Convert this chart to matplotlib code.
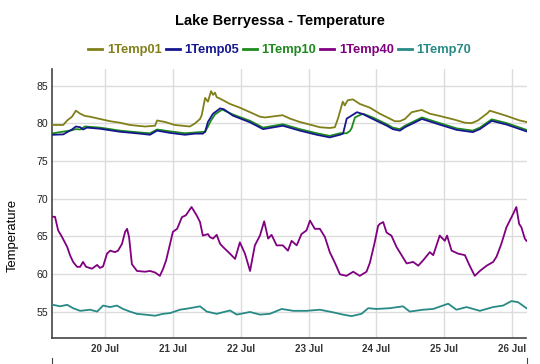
import numpy as np
import pandas as pd
import matplotlib
matplotlib.use("Agg")
import matplotlib.pyplot as plt
import matplotlib.dates as mdates

# hours after 19 Jul 00:00
t01 = [5.6, 9.2, 10.6, 12.3, 13.7, 15.2, 16.9, 18.7, 22.2, 25.8, 29.3, 32.8, 38.1, 41.7, 42.4,
       45.2, 48.7, 54.0, 55.8, 57.6, 58.2, 59.4, 60.4, 61.5, 62.2, 62.9, 63.5, 64.7, 68.2, 71.7,
       75.3, 78.8, 80.6, 86.8, 89.4, 92.9, 96.5, 100.0, 103.5, 105.3, 106.4, 108.1, 108.8, 109.9,
       111.7, 114.1, 117.7, 121.2, 124.7, 126.5, 128.3, 130.1, 132.5, 136.0, 138.9, 142.4, 147.7,
       151.3, 153.7, 155.9, 159.4, 160.1, 163.6, 166.1, 170.7, 173.1]
temp01 = [79.8, 79.8, 80.4, 80.9, 81.7, 81.3, 81.0, 80.9, 80.6, 80.3, 80.1, 79.8, 79.6, 79.7, 80.4,
          80.2, 79.8, 79.6, 80.0, 80.6, 81.1, 83.4, 82.9, 84.3, 83.8, 84.1, 83.5, 83.3, 82.6, 82.1,
          81.5, 80.9, 80.8, 81.1, 80.65, 80.2, 79.85, 79.5, 79.4, 79.5, 80.65, 82.9, 82.4, 83.1,
          83.2, 82.6, 82.1, 81.3, 80.65, 80.3, 80.3, 80.6, 81.5, 81.8, 81.3, 81.0, 80.5,
          80.1, 80.05, 80.4, 81.4, 81.7, 81.3, 81.0, 80.4, 80.2]

t05 = [5.6, 9.2, 12.3, 13.7, 15.2, 16.2, 17.6, 22.2, 29.3, 36.4, 39.9, 42.4, 47.0, 52.3, 55.8,
       58.6, 59.4, 60.4, 62.2, 64.7, 66.0, 69.2, 75.3, 79.9, 86.9, 92.9, 98.9, 103.5, 107.1,
       108.2, 109.5, 110.6, 113.1, 115.2, 118.7, 121.2, 123.7, 125.8, 128.3, 130.1, 136.1, 142.4,
       148.4, 154.1, 156.6, 160.8, 166.1, 173.1]
temp05 = [78.5, 78.55, 79.2, 79.6, 79.5, 79.2, 79.45, 79.3, 78.9, 78.65, 78.5, 79.05, 78.75, 78.5, 78.65,
          78.65, 78.9, 80.2, 81.3, 82.0, 81.9, 81.05, 80.15, 79.25, 79.7, 79.05, 78.5, 78.15, 78.5,
          78.65, 80.65, 80.9, 81.5, 81.25, 80.6, 80.15, 79.7, 79.25, 79.05, 79.5, 80.6, 79.85,
          79.15, 78.85, 79.25, 80.35, 79.85, 78.95]

t10 = [5.6, 12.3, 13.7, 15.2, 16.9, 22.2, 29.3, 36.4, 39.9, 42.4, 47.0, 52.3, 55.8, 59.4, 60.4,
       61.5, 62.9, 65.4, 69.2, 75.3, 79.9, 86.9, 92.9, 98.9, 103.5, 107.1, 109.5, 110.6, 111.2,
       112.4, 115.2, 118.7, 121.2, 123.7, 125.8, 128.3, 130.1, 136.1, 142.4, 148.4, 154.1, 156.6,
       160.8, 166.1, 173.1]
temp10 = [78.7, 79.1, 79.25, 79.2, 79.6, 79.45, 79.05, 78.8, 78.7, 79.2, 78.95, 78.7, 78.8, 78.9, 79.6,
          80.4, 81.2, 81.85, 81.2, 80.35, 79.45, 79.9, 79.25, 78.7, 78.35, 78.7, 78.7, 79.0, 79.35,
          80.8, 81.3, 80.8, 80.35, 79.9, 79.45, 79.25, 79.7, 80.8, 80.05, 79.35, 79.05, 79.45,
          80.55, 80.05, 79.15]

t40 = [5.6, 6.3, 7.4, 8.8, 10.6, 11.6, 12.7, 14.1, 15.2, 16.2, 17.3, 19.4, 21.2, 22.2, 23.3,
       24.7, 25.8, 27.5, 28.6, 30.0, 31.1, 31.8, 32.5, 33.5, 35.3, 38.1, 39.9, 41.7, 43.4, 44.5,
       45.6, 47.0, 48.0, 49.5, 51.2, 52.6, 54.6, 56.4, 57.6, 58.6, 60.4, 61.1, 62.2, 63.5, 64.7,
       65.7, 68.2, 70.0, 71.7, 73.5, 75.3, 77.0, 78.8, 80.3, 81.7, 82.9, 84.7, 86.9, 88.7, 90.0,
       91.8, 93.5, 95.3, 96.5, 98.2, 100.0, 101.8, 103.5, 105.3, 107.1, 109.4, 111.8, 114.1,
       116.5, 117.7, 119.4, 120.6, 121.2, 122.4, 123.6, 125.3, 127.1, 128.9, 130.7, 133.0,
       134.8, 136.5, 138.9, 140.1, 142.4, 144.2, 145.0, 146.6, 148.9, 151.3, 153.0, 154.8,
       156.6, 159.0, 161.3, 162.5, 164.2, 166.0, 167.2, 168.4, 169.5, 170.5, 171.3, 172.5, 173.1]
temp40 = [67.6, 67.6, 65.8, 64.9, 63.6, 62.5, 61.6, 60.95, 60.95, 61.6, 60.95, 60.7, 61.2, 60.8, 61.0,
          62.7, 63.1, 62.9, 63.1, 64.0, 65.6, 66.0, 64.9, 61.3, 60.4, 60.3, 60.4, 60.2, 59.75, 60.65,
          61.8, 64.0, 65.6, 66.0, 67.55, 67.8, 68.9, 67.8, 66.9, 65.1, 65.3, 64.9, 64.7, 65.2, 64.0,
          63.6, 62.7, 62.0, 64.2, 62.7, 60.4, 63.8, 65.1, 67.0, 64.7, 65.2, 63.8, 63.8, 63.1, 64.4,
          63.8, 65.3, 65.8, 67.1, 66.0, 66.0, 64.9, 62.9, 61.5, 59.95, 59.75, 60.3, 59.75,
          60.3, 61.5, 64.2, 66.4, 66.65, 66.9, 65.5, 65.1, 63.6, 62.5, 61.4, 61.6,
          61.1, 61.8, 62.9, 62.5, 65.1, 64.4, 65.1, 63.1, 62.7, 62.5, 61.1, 59.75,
          60.4, 61.1, 61.6, 62.3, 64.0, 66.2, 67.1, 68.0, 68.9, 66.65, 66.2, 64.7, 64.4]

t70 = [5.6, 8.1, 10.6, 12.7, 15.2, 18.7, 21.2, 23.3, 25.8, 28.2, 30.4, 32.8, 35.3, 38.1, 41.7,
       44.5, 47.0, 50.5, 54.0, 57.6, 60.0, 63.5, 68.2, 70.6, 75.3, 78.8, 82.3, 86.5, 90.6, 95.3,
       100.0, 104.7, 108.2, 111.2, 114.7, 117.1, 120.0, 124.7, 129.4, 131.8, 136.5, 140.1, 145.4,
       148.3, 151.9, 156.6, 161.3, 164.8, 167.8, 170.1, 173.1]
temp70 = [55.9, 55.7, 55.9, 55.45, 55.1, 55.25, 55.0, 55.8, 55.6, 55.8, 55.35, 55.0, 54.7, 54.6, 54.45,
          54.7, 54.8, 55.25, 55.45, 55.7, 55.0, 54.7, 55.15, 54.6, 54.95, 54.6, 54.7, 55.35, 55.1, 55.1,
          55.25, 54.9, 54.6, 54.4, 54.7, 55.45, 55.35, 55.45, 55.7, 55.0, 55.25, 55.35, 56.05,
          55.25, 55.6, 55.1, 55.6, 55.8, 56.4, 56.25, 55.45]

names = ["1Temp01", "1Temp05", "1Temp10", "1Temp40", "1Temp70"]
times = [t01, t05, t10, t40, t70]
values = [temp01, temp05, temp10, temp40, temp70]
colors = ["#80801a", "#16168f", "#1c8a1c", "#800080", "#288a86"]
zorders = [3, 4, 3, 3, 3]   # blue sits on top of green in the reference

start = pd.Timestamp("2019-07-19")
def to_dates(hours):
    return start + pd.to_timedelta(hours, unit="h")

plt.rcParams["font.family"] = ["Liberation Sans", "DejaVu Sans"]

fig = plt.figure(figsize=(5.4, 3.64), dpi=100)
ax = fig.add_axes([0.097, 0.0706, 0.878, 0.739])

lines = []
for name, t, v, c, z in zip(names, times, values, colors, zorders):
    ln, = ax.plot(to_dates(t), v, color=c, lw=1.3, label=name, zorder=z)
    lines.append(ln)

ax.set_xlim(to_dates([5.37])[0], to_dates([173.1])[0])
ax.set_ylim(51.45, 87.2)
ax.set_yticks([55, 60, 65, 70, 75, 80, 85])
ax.xaxis.set_major_locator(mdates.DayLocator())
ax.xaxis.set_major_formatter(mdates.DateFormatter("%d %b"))

ax.grid(True, color="#dcdcdc", lw=1)
ax.set_axisbelow(True)
for s in ["top", "right"]:
    ax.spines[s].set_visible(False)
for s in ["left", "bottom"]:
    ax.spines[s].set_color("#444444")
    ax.spines[s].set_linewidth(1.2)
ax.tick_params(axis="both", length=0)
ax.tick_params(axis="y", labelsize=7.6, pad=3, labelcolor="#222222")
ax.tick_params(axis="x", labelsize=7, pad=4, labelcolor="#333333")
for lab in ax.get_xticklabels():
    lab.set_fontweight("bold")

ax.set_ylabel("Temperature", fontsize=9.4)
ax.yaxis.set_label_coords(-0.070, 0.384)

fig.text(0.518, 0.943, "Lake Berryessa - Temperature", ha="center", va="center",
         fontsize=10.5, fontweight="bold")

leg = fig.legend(handles=lines, loc="center", bbox_to_anchor=(0.518, 0.862), ncol=5,
                 frameon=False, prop={"weight": "bold", "size": 9.3},
                 handlelength=1.1, handletextpad=0.35, columnspacing=0.3)
for txt, ln in zip(leg.get_texts(), lines):
    txt.set_color(ln.get_color())
for h in leg.legend_handles:
    h.set_linewidth(2)

# start of the navigator strip below the chart
nav = fig.add_axes([0.097, -0.05, 0.878, 0.067])
nav.set_xticks([])
nav.set_yticks([])
nav.patch.set_alpha(0)
for s in ["top", "bottom"]:
    nav.spines[s].set_visible(False)
for s in ["left", "right"]:
    nav.spines[s].set_color("#444444")

fig.savefig("out.png", dpi=100)
